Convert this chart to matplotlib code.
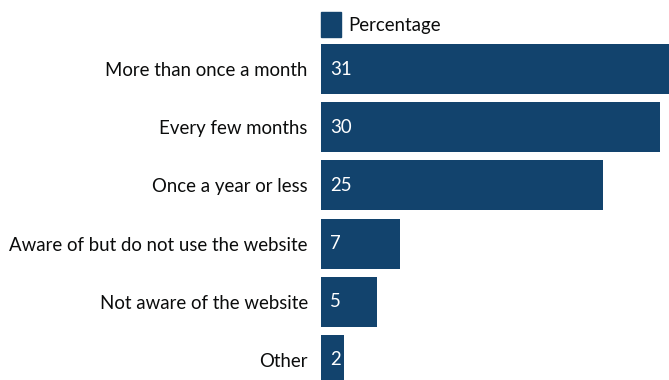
import matplotlib.pyplot as plt
from matplotlib.patches import Patch

categories = ["More than once a month", "Every few months", "Once a year or less",
              "Aware of but do not use the website", "Not aware of the website", "Other"]
percentage = [31, 30, 25, 7, 5, 2]
series_name = "Percentage"

bar_colour = "#12436D"
text_colour = "#0b0c0c"
fs = 13.4

plt.rcParams['font.family'] = ['Lato', 'DejaVu Sans']

fig = plt.figure(figsize=(6.69, 3.80), dpi=100)
# axes runs from the bar baseline to the right edge, full height
ax = fig.add_axes([321 / 669, 0, 1 - 321 / 669, 1])

ypos = list(range(len(categories)))
ax.barh(ypos, percentage, height=0.86, color=bar_colour, label=series_name)

for y, v in zip(ypos, percentage):
    ax.text(0.8, y, str(v), color="white", va="center", ha="left", fontsize=fs)

ax.set_xlim(0, 30.8)
ax.set_ylim(5.345, -1.19)
ax.set_yticks(ypos)
ax.set_yticklabels(categories, fontsize=fs, color=text_colour)
ax.tick_params(axis="y", length=0, pad=9.5)
ax.set_xticks([])
for s in ax.spines.values():
    s.set_visible(False)

ax.legend(handles=[Patch(color=bar_colour, label=series_name)],
          loc="upper left", bbox_to_anchor=(0, 1 - 12 / 380), frameon=False,
          borderpad=0, borderaxespad=0, handlelength=1.07, handleheight=1.7,
          handletextpad=0.4, fontsize=fs, labelcolor=text_colour)

fig.savefig("out.png", dpi=100)
